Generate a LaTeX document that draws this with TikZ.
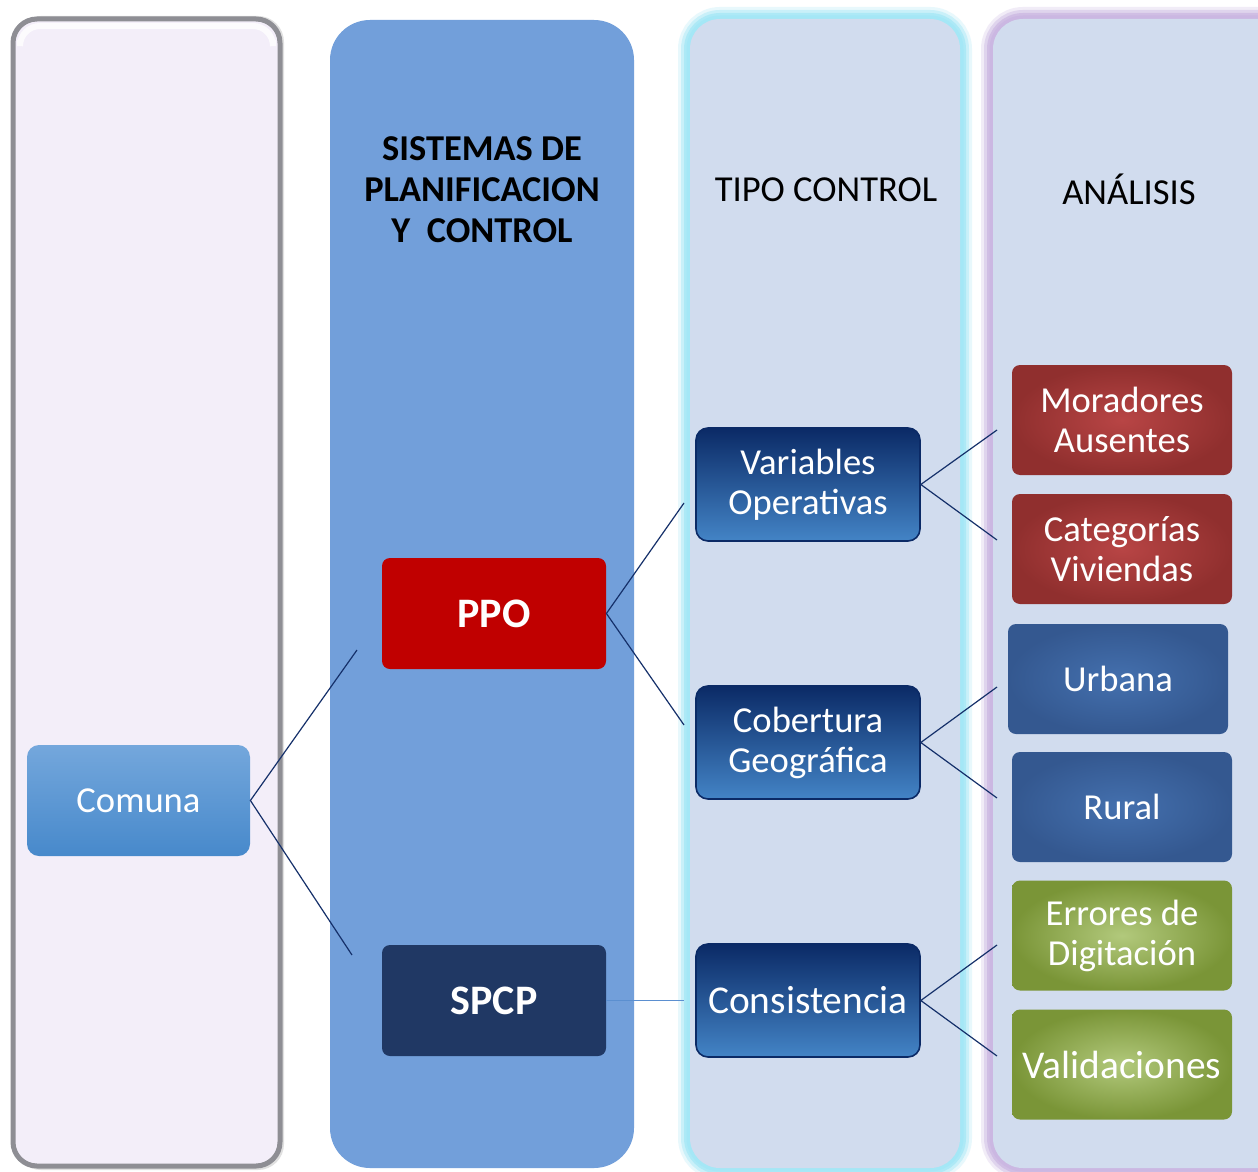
\documentclass[tikz,border=0pt]{standalone}
\usepackage{fontspec}
\setmainfont{Carlito}
\usetikzlibrary{shadows}
\definecolor{colA}{HTML}{F3EEF9}
\definecolor{colB}{HTML}{729FDA}
\definecolor{colC}{HTML}{D1DCEE}
\definecolor{glowC}{HTML}{A4E7F6}
\definecolor{glowD}{HTML}{CBB7E2}
\definecolor{navy}{HTML}{0B2A66}
\definecolor{midblue}{HTML}{5B9CDD}
\definecolor{lowblue}{HTML}{4384C6}
\definecolor{lineC}{HTML}{15306A}
\definecolor{redA}{HTML}{B84545}
\definecolor{redB}{HTML}{902F2E}
\definecolor{bluA}{HTML}{4470AE}
\definecolor{bluB}{HTML}{345890}
\definecolor{grnA}{HTML}{B2C97C}
\definecolor{grnB}{HTML}{7A9537}
\definecolor{comTop}{HTML}{74A7DC}
\definecolor{comBot}{HTML}{4789CB}
\definecolor{ppoRed}{HTML}{C00000}
\definecolor{spcpBlue}{HTML}{203864}
\definecolor{lightLine}{HTML}{5B8FD0}
\definecolor{bevel}{HTML}{8E8E94}
\begin{document}
\begin{tikzpicture}[x=0.5pt,y=-0.5pt,
  txt/.style={font=\fontsize{18.3}{20}\selectfont, align=center},
  boldtxt/.style={font=\bfseries\fontsize{18.2}{20.5}\selectfont, align=center},
  comunabox/.style={txt, text=white, rounded corners=6pt, minimum width=111.5pt, minimum height=55.5pt,
     top color=comTop, bottom color=comBot},
  sysbox/.style={font=\bfseries\fontsize{21}{24}\selectfont, text=white, rounded corners=4pt, minimum width=112pt, minimum height=55.5pt},
  tipobox/.style={txt, text=white, rounded corners=6pt, minimum width=112pt, minimum height=56.5pt,
     top color=navy, middle color=midblue, bottom color=lowblue, draw=navy, line width=0.8pt},
  anbox/.style={txt, text=white, rounded corners=4pt, minimum width=110pt, minimum height=55pt},
  redbox/.style={anbox, inner color=redA, outer color=redB},
  blubox/.style={anbox, inner color=bluA, outer color=bluB},
  grnbox/.style={anbox, inner color=grnA, outer color=grnB},
  conn/.style={draw=lineC, line width=0.6pt}
]
\clip (0,0) rectangle (1258,1172);
\fill[white] (0,0) rectangle (1258,1172);

% column 1 (bevelled panel with shadow)
\fill[gray!40, opacity=0.6, rounded corners=13pt] (15,16) rectangle (284,1170);
\fill[colA, draw=bevel, line width=2.5pt, rounded corners=12pt]
  (13,19) rectangle (280,1166);
\draw[white, opacity=0.8, line width=3pt, rounded corners=10pt] (20,40) -- (20,26) -- (273,26) -- (273,40);

% column 2
\fill[colB, rounded corners=20pt] (330,20) rectangle (634,1168);

% column 3 glow
\foreach \w/\o in {24/0.25, 18/0.45, 12/0.75, 7/1}{
  \draw[glowC, opacity=\o, line width=\w*0.5pt, rounded corners=15pt] (690,19) rectangle (960,1168);
}
\fill[colC, rounded corners=15pt] (690,19) rectangle (960,1168);

% column 4 glow
\foreach \w/\o in {24/0.25, 18/0.45, 12/0.75, 7/1}{
  \draw[glowD, opacity=\o, line width=\w*0.5pt, rounded corners=15pt] (993,19) rectangle (1300,1168);
}
\fill[colC, rounded corners=15pt] (993,19) rectangle (1300,1168);

% headers
\node[boldtxt] (hsys) at (482,190) {SISTEMAS DE\\PLANIFICACION\\Y\ \ CONTROL};
\node[txt] (htipo) at (826,190) {TIPO CONTROL};
\node[txt] (hanal) at (1129,189) {ANÁLISIS};

% nodes
\node[comunabox] (comuna) at (138.5,800.5) {Comuna};
\node[sysbox, fill=ppoRed] (ppo) at (494,613.5) {PPO};
\node[sysbox, fill=spcpBlue] (spcp) at (494,1000.5) {SPCP};

\node[tipobox] (var) at (808,484.5) {Variables\\Operativas};
\node[tipobox] (cob) at (808,742.5) {Cobertura\\Geográfica};
\node[tipobox, font=\fontsize{19.7}{22}\selectfont] (cons) at (808,1000.5) {Consistencia};

\node[redbox] (mor) at (1122,420) {Moradores\\Ausentes};
\node[redbox] (cat) at (1122,549) {Categorías\\Viviendas};
\node[blubox] (urb) at (1118,679) {Urbana};
\node[blubox] (rur) at (1122,807) {Rural};
\node[grnbox] (err) at (1122,935.5) {Errores de\\Digitación};
\node[grnbox, font=\fontsize{19.7}{22}\selectfont] (val) at (1122,1064.5) {Validaciones};

% free ends
\coordinate (c1) at (357,650);
\coordinate (c2) at (352,955);
\coordinate (p1) at (684,503);
\coordinate (p2) at (684,725);
\coordinate (s1) at (684,1000.5);
\coordinate (v1) at (997,430);
\coordinate (v2) at (997,540);
\coordinate (g1) at (997,687);
\coordinate (g2) at (997,798);
\coordinate (k1) at (997,945);
\coordinate (k2) at (997,1056);

\draw[conn] (c1) -- (comuna.east) -- (c2);
\draw[conn] (p1) -- (ppo.east) -- (p2);
\draw[draw=lightLine, line width=0.6pt] (spcp.east) -- (s1);
\draw[conn] (v1) -- (var.east) -- (v2);
\draw[conn] (g1) -- (cob.east) -- (g2);
\draw[conn] (k1) -- (cons.east) -- (k2);
\end{tikzpicture}
\end{document}
